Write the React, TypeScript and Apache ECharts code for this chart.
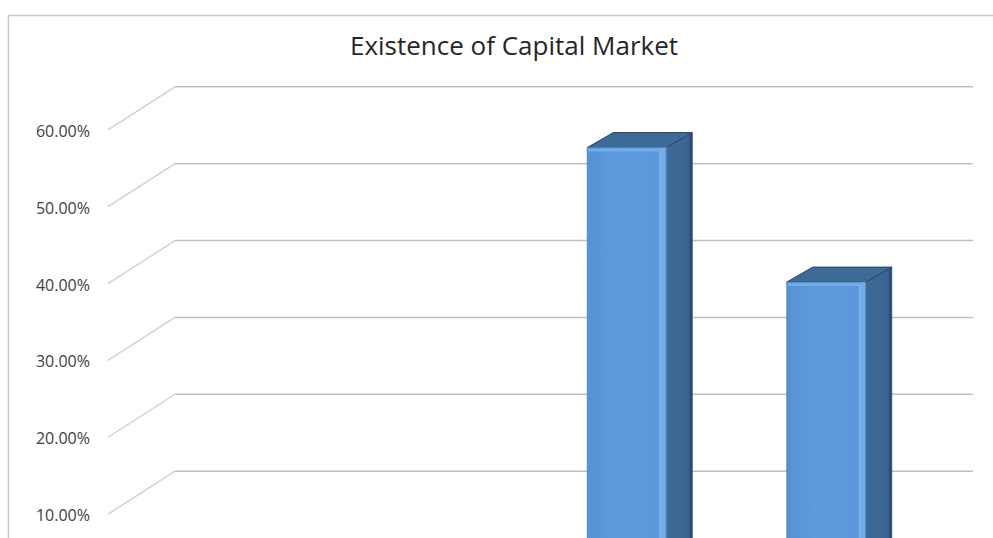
import React, { useEffect, useRef } from "react";
import * as echarts from "echarts";

const TITLE = "Existence of Capital Market";
// Categories whose labels fall below the visible part of the picture
const categories = ["Category 1", "Category 2", "Category 3", "Category 4"];
const values = [2, 2, 56, 38.5];
const tickValues = [10, 20, 30, 40, 50, 60];

const fmt = (v: number) => v.toFixed(2) + "%";

export default function App() {
  const ref = useRef<HTMLDivElement>(null);
  useEffect(() => {
    document.body.style.margin = "0";
    const chart = echarts.init(ref.current!, null, { renderer: "svg" });

    const DEPTH_X = 67; // gridline perspective
    const DEPTH_Y = 43;
    const FRONT_DX = -47;
    const FRONT_DY = 30;
    const BAR_DX = 26;
    const BAR_DY = 15;
    const BAR_RATIO = 0.396;

    const renderGrid = (params: any, api: any) => {
      const v = api.value(1);
      const y = api.coord([0, v])[1];
      const cs = params.coordSys;
      return {
        type: "group",
        children: [
          {
            type: "line",
            shape: { x1: cs.x - DEPTH_X, y1: y + DEPTH_Y, x2: cs.x, y2: y },
            style: { stroke: "#D0D0D0", lineWidth: 1.4 },
          },
          {
            type: "line",
            shape: { x1: cs.x, y1: y, x2: cs.x + cs.width, y2: y },
            style: { stroke: "#BFBFBF", lineWidth: 1.5 },
          },
          {
            type: "text",
            style: {
              text: fmt(v),
              x: cs.x - 85,
              y: y + DEPTH_Y + 1,
              align: "right",
              verticalAlign: "middle",
              fill: "#404040",
              fontSize: 16,
              fontFamily: "Open Sans",
            },
          },
        ],
      };
    };

    const renderBar = (params: any, api: any) => {
      const idx = api.value(0);
      const val = api.value(1);
      const top = api.coord([idx, val]);
      const base = api.coord([idx, 0]);
      const bw = api.size([1, 0])[0] * BAR_RATIO;
      const fx = top[0] - bw / 2 + FRONT_DX;
      const ft = top[1] + FRONT_DY;
      const fb = base[1] + FRONT_DY;
      const h = fb - ft;
      return {
        type: "group",
        children: [
          {
            type: "polygon",
            shape: {
              points: [
                [fx + bw, ft],
                [fx + bw + BAR_DX, ft - BAR_DY],
                [fx + bw + BAR_DX, fb - BAR_DY],
                [fx + bw, fb],
              ],
            },
            style: {
              fill: new echarts.graphic.LinearGradient(0, 0, 1, 0, [
                { offset: 0, color: "#3F6B99" },
                { offset: 0.85, color: "#3A6390" },
                { offset: 1, color: "#1F3C61" },
              ]),
              stroke: "#2A4C75",
              lineWidth: 0.8,
            },
          },
          {
            type: "polygon",
            shape: {
              points: [
                [fx, ft],
                [fx + BAR_DX, ft - BAR_DY],
                [fx + bw + BAR_DX, ft - BAR_DY],
                [fx + bw, ft],
              ],
            },
            style: { fill: "#3E6A98", stroke: "#23466F", lineWidth: 1 },
          },
          {
            type: "rect",
            shape: { x: fx, y: ft, width: bw, height: h },
            style: {
              fill: new echarts.graphic.LinearGradient(0, 0, 1, 0, [
                { offset: 0, color: "#5691D3" },
                { offset: 0.4, color: "#5E9BDC" },
                { offset: 0.9, color: "#5C98D9" },
                { offset: 0.92, color: "#78B0EA" },
                { offset: 1, color: "#6FA7E4" },
              ]),
              stroke: "#4A82C2",
              lineWidth: 0.8,
            },
          },
          {
            type: "rect",
            shape: { x: fx + 1, y: ft + 1, width: bw - 2, height: 3 },
            style: { fill: "#74ACE8" },
          },
        ],
      };
    };

    chart.setOption({
      animation: false,
      backgroundColor: "#ffffff",
      title: {
        text: TITLE,
        left: 509,
        top: 27,
        textAlign: "center",
        textStyle: {
          fontFamily: "Open Sans",
          fontSize: 26,
          fontWeight: "normal",
          color: "#262626",
        },
      },
      graphic: [
        {
          type: "rect",
          shape: { x: 8.5, y: 15.5, width: 1200, height: 800 },
          style: { fill: "none", stroke: "#C8C8C8", lineWidth: 1.5 },
          silent: true,
        },
      ],
      grid: { left: 175, top: 10, width: 798, bottom: 0, containLabel: false },
      xAxis: {
        type: "category",
        data: categories,
        show: false,
      },
      yAxis: {
        type: "value",
        min: 1.3,
        max: 70,
        show: false,
        splitLine: { show: false },
      },
      series: [
        {
          type: "custom",
          renderItem: renderGrid,
          data: tickValues.map((v) => [0, v]),
          silent: true,
          clip: false,
        },
        {
          type: "custom",
          renderItem: renderBar,
          data: values.map((v, i) => [i, v]),
          clip: false,
        },
      ],
    });
    return () => chart.dispose();
  }, []);
  return <div ref={ref} style={{ width: 993, height: 538 }} />;
}
